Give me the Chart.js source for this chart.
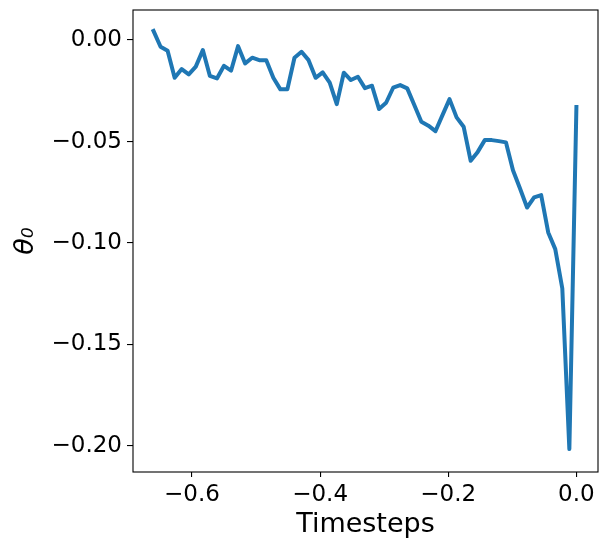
<!DOCTYPE html>
<html>
<head>
<meta charset="utf-8">
<script src="https://cdn.jsdelivr.net/npm/chart.js@4.4.1/dist/chart.umd.min.js"></script>
<style>
  html, body { margin: 0; padding: 0; background: #fff; }
  #wrap { width: 607px; height: 549px; }
</style>
</head>
<body>
<div id="wrap"><canvas id="thetaChart" width="607" height="549"></canvas></div>
<script>
// timesteps (x) and theta_0 values
const timesteps = [
  -0.660, -0.649, -0.638, -0.627, -0.616, -0.605, -0.594, -0.583, -0.572, -0.561,
  -0.550, -0.539, -0.528, -0.517, -0.506, -0.495, -0.484, -0.473, -0.462, -0.451,
  -0.440, -0.429, -0.418, -0.407, -0.396, -0.385, -0.374, -0.363, -0.352, -0.341,
  -0.330, -0.319, -0.308, -0.297, -0.286, -0.275, -0.264, -0.253, -0.242, -0.231,
  -0.220, -0.209, -0.198, -0.187, -0.176, -0.165, -0.154, -0.143, -0.132, -0.121,
  -0.110, -0.099, -0.088, -0.077, -0.066, -0.055, -0.044, -0.033, -0.022, -0.011,
  0.000
];
const theta0 = [
  0.0045, -0.0033, -0.0053, -0.0186, -0.0143, -0.0169, -0.0131, -0.0049, -0.0177, -0.0189,
  -0.0127, -0.0151, -0.0030, -0.0115, -0.0087, -0.0099, -0.0099, -0.0186, -0.0243, -0.0242,
  -0.0087, -0.0058, -0.0099, -0.0186, -0.0159, -0.0210, -0.0316, -0.0161, -0.0197, -0.0181,
  -0.0237, -0.0225, -0.0340, -0.0309, -0.0235, -0.0222, -0.0238, -0.0320, -0.0403, -0.0422,
  -0.0449, -0.0370, -0.0291, -0.0381, -0.0427, -0.0595, -0.0551, -0.0493, -0.0493, -0.0498,
  -0.0504, -0.0641, -0.0731, -0.0825, -0.0775, -0.0764, -0.0948, -0.1030, -0.1224, -0.2015,
  -0.0330
];
const xTicks = [-0.6, -0.4, -0.2, 0.0];
const yTicks = [0.00, -0.05, -0.10, -0.15, -0.20];

const minus = s => s.replace('-', '\u2212');

// black frame around the plot area, like matplotlib's spines
const frame = {
  id: 'frame',
  afterDraw(chart) {
    const a = chart.chartArea;
    const c = chart.ctx;
    c.save();
    c.strokeStyle = '#000';
    c.lineWidth = 1.1;
    c.strokeRect(a.left, a.top, a.right - a.left, a.bottom - a.top);
    c.restore();
  }
};

const ctx = document.getElementById('thetaChart').getContext('2d');

new Chart(ctx, {
  type: 'line',
  data: {
    datasets: [{
      data: timesteps.map((t, i) => ({ x: t, y: theta0[i] })),
      borderColor: '#1f77b4',
      borderWidth: 4,
      pointRadius: 0,
      tension: 0,
      borderJoinStyle: 'round',
      borderCapStyle: 'square',
      fill: false
    }]
  },
  options: {
    responsive: false,
    animation: false,
    devicePixelRatio: 1,
    layout: { padding: { top: 10, right: 9, left: 0, bottom: 0 } },
    plugins: {
      legend: { display: false },
      tooltip: { enabled: false }
    },
    scales: {
      x: {
        type: 'linear',
        min: -0.692,
        max: 0.0337,
        afterBuildTicks: s => { s.ticks = xTicks.map(v => ({ value: v })); },
        afterFit: s => { s.height = 77; s.paddingLeft = 0; s.paddingRight = 0; },
        border: { display: false },
        grid: { drawOnChartArea: false, drawTicks: true, tickLength: 5, tickColor: '#000', lineWidth: 1.1 },
        ticks: {
          color: '#000',
          padding: 4,
          maxRotation: 0,
          font: { family: 'DejaVu Sans', size: 23 },
          callback: v => minus(v.toFixed(1))
        },
        title: {
          display: true,
          text: 'Timesteps',
          color: '#000',
          font: { family: 'DejaVu Sans', size: 27 },
          padding: { top: 0, bottom: 8 }
        }
      },
      y: {
        min: -0.2128,
        max: 0.0148,
        afterBuildTicks: s => { s.ticks = yTicks.map(v => ({ value: v })); },
        afterFit: s => { s.width = 133; s.paddingTop = 0; s.paddingBottom = 0; },
        border: { display: false },
        grid: { drawOnChartArea: false, drawTicks: true, tickLength: 6, tickColor: '#000', lineWidth: 1.1 },
        ticks: {
          color: '#000',
          padding: 5,
          font: { family: 'DejaVu Sans', size: 23 },
          callback: v => minus(v.toFixed(2))
        },
        title: {
          display: true,
          text: 'θ₀',
          color: '#000',
          font: { family: 'DejaVu Sans', size: 27, style: 'italic' },
          padding: { top: 10, bottom: 0 }
        }
      }
    }
  },
  plugins: [frame]
});
</script>
</body>
</html>
